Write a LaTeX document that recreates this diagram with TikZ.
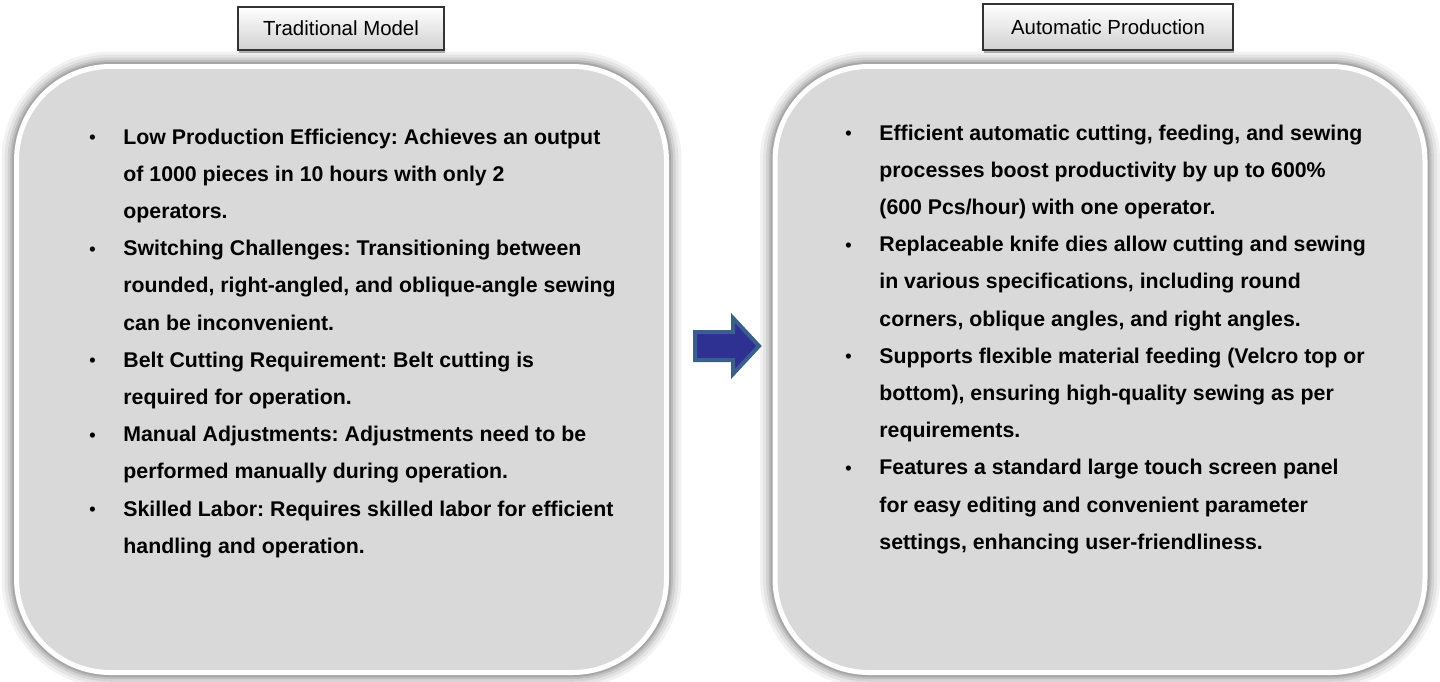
\documentclass[tikz,border=0pt]{standalone}
\usepackage{fontspec}
\setmainfont{Liberation Sans}
\usepackage{tikz}
\usetikzlibrary{shadows}
\definecolor{panelgray}{HTML}{D9D9D9}
\definecolor{arrowfill}{HTML}{2E3192}
\definecolor{arrowedge}{HTML}{3A5F8F}
\newcommand{\bul}{\raisebox{0.3pt}{\small\textbullet}}
\frenchspacing
\tikzset{
  panel/.style={draw=white, line width=2.5pt, fill=panelgray, rounded corners=47pt,
    minimum width=325pt, minimum height=303pt, inner sep=0pt,
    preaction={draw=black, draw opacity=0.05, line width=15pt},
    preaction={draw=black, draw opacity=0.06, line width=12pt},
    preaction={draw=black, draw opacity=0.08, line width=9pt},
    preaction={draw=black, draw opacity=0.10, line width=6.5pt},
    preaction={draw=black, draw opacity=0.12, line width=4.5pt}},
  hdr/.style={draw=black!80, line width=0.6pt, top color=white, bottom color=black!18,
    inner sep=0pt, font=\fontsize{10.2}{12}\selectfont,
    drop shadow={shadow xshift=0.6pt, shadow yshift=-1.5pt, opacity=0.3, fill=black}},
  blurb/.style={anchor=base west, inner sep=0pt, font=\bfseries\fontsize{10.65}{18.6}\selectfont},
  bluearrow/.style={fill=arrowfill, draw=arrowedge, line width=2pt, line join=miter}
}

\begin{document}
\begin{tikzpicture}[x=0.5pt, y=-0.5pt]
  \useasboundingbox (0,0) rectangle (1440,681);
  \node[panel] (LB) at (341.5, 369.5) {};
  \node[panel] (RB) at (1100, 369.5) {};
  \node[hdr, minimum width=103pt, minimum height=21.5pt] (LH) at (341, 28.5) {Traditional Model};
  \node[hdr, minimum width=125pt, minimum height=23pt] (RH) at (1108, 27) {Automatic Production};
  \node[blurb] (LT) at (89, 144) {\begin{tabular}[t]{@{}p{17pt}@{}l@{}}
    \bul & Low Production Efficiency: Achieves an output\\
         & of 1000 pieces in 10 hours with only 2\\
         & operators.\\
    \bul & Switching Challenges: Transitioning between\\
         & rounded, right-angled, and oblique-angle sewing\\
         & can be inconvenient.\\
    \bul & Belt Cutting Requirement: Belt cutting is\\
         & required for operation.\\
    \bul & Manual Adjustments: Adjustments need to be\\
         & performed manually during operation.\\
    \bul & Skilled Labor: Requires skilled labor for efficient\\
         & handling and operation.
  \end{tabular}};
  \node[blurb] (RT) at (845, 140) {\begin{tabular}[t]{@{}p{17pt}@{}l@{}}
    \bul & Efficient automatic cutting, feeding, and sewing\\
         & processes boost productivity by up to 600\%\\
         & (600 Pcs/hour) with one operator.\\
    \bul & Replaceable knife dies allow cutting and sewing\\
         & in various specifications, including round\\
         & corners, oblique angles, and right angles.\\
    \bul & Supports flexible material feeding (Velcro top or\\
         & bottom), ensuring high-quality sewing as per\\
         & requirements.\\
    \bul & Features a standard large touch screen panel\\
         & for easy editing and convenient parameter\\
         & settings, enhancing user-friendliness.
  \end{tabular}};
  \draw[bluearrow] (695, 332) -- (733, 332) -- (733, 318) -- (759, 346)
    -- (733, 374) -- (733, 360) -- (695, 360) -- cycle;
\end{tikzpicture}
\end{document}
